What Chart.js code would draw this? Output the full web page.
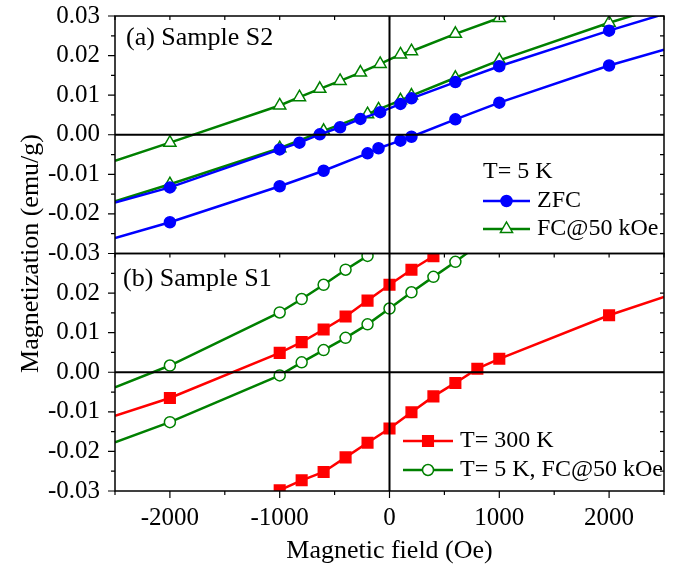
<!DOCTYPE html>
<html>
<head>
<meta charset="utf-8">
<script src="https://cdn.jsdelivr.net/npm/chart.js@4.4.1/dist/chart.umd.min.js"></script>
<style>
  html, body { margin: 0; padding: 0; background: #fff; }
  #wrap { width: 676px; height: 565px; }
</style>
</head>
<body>
<div id="wrap"><canvas id="mh" width="676" height="565"></canvas></div>
<script>
// (a) Sample S2, T = 5 K  -- field in Oe, magnetization in emu/g
const s2ZfcUpField   = [-2500, -2000, -1000, -600, -200, -100, 100, 200, 600, 1000, 2000, 2500];
const s2ZfcUpM       = [-0.0261, -0.0221, -0.0130, -0.0091, -0.0047, -0.0034, -0.0015, -0.0005, 0.0039, 0.0081, 0.0175, 0.0215];
const s2ZfcDownField = [-2500, -2000, -1000, -820, -635, -450, -265, -85, 100, 200, 600, 1000, 2000, 2500];
const s2ZfcDownM     = [-0.0171, -0.0133, -0.0037, -0.0020, 0.0001, 0.0019, 0.0040, 0.0057, 0.0078, 0.0092, 0.0133, 0.0173, 0.0263, 0.0305];
const s2FcUpField    = [-2500, -2000, -1000, -600, -200, -100, 100, 200, 600, 1000, 2000, 2500];
const s2FcUpM        = [-0.0168, -0.0125, -0.0034, 0.0010, 0.0052, 0.0064, 0.0087, 0.0099, 0.0144, 0.0188, 0.0283, 0.0325];
const s2FcDownField  = [-2500, -2000, -1000, -820, -635, -450, -265, -85, 100, 200, 600, 1000, 2000];
const s2FcDownM      = [-0.0066, -0.0020, 0.0074, 0.0095, 0.0116, 0.0136, 0.0157, 0.0179, 0.0203, 0.0211, 0.0255, 0.0295, 0.0395];

// (b) Sample S1
const s1RtDownField  = [-2500, -2000, -1000, -800, -600, -400, -200, 0, 200, 400, 600];
const s1RtDownM      = [-0.0110, -0.0065, 0.0049, 0.0076, 0.0108, 0.0141, 0.0181, 0.0221, 0.0259, 0.0293, 0.0330];
const s1RtUpField    = [-2000, -1000, -800, -600, -400, -200, 0, 200, 400, 600, 800, 1000, 2000, 2500];
const s1RtUpM        = [-0.0410, -0.0298, -0.0273, -0.0252, -0.0215, -0.0178, -0.0142, -0.0101, -0.0061, -0.0027, 0.0009, 0.0034, 0.0144, 0.0190];
const s1FcDownField  = [-2500, -2000, -1000, -800, -600, -400, -200, 0];
const s1FcDownM      = [-0.0038, 0.0017, 0.0151, 0.0185, 0.0221, 0.0259, 0.0294, 0.0340];
const s1FcUpField    = [-2500, -2000, -1000, -800, -600, -400, -200, 0, 200, 400, 600, 800];
const s1FcUpM        = [-0.0177, -0.0126, -0.0008, 0.0025, 0.0056, 0.0087, 0.0121, 0.0161, 0.0202, 0.0241, 0.0279, 0.0320];

const fieldTicks = [-2500, -2000, -1500, -1000, -500, 0, 500, 1000, 1500, 2000, 2500];
const mTicks = [-0.03, -0.025, -0.02, -0.015, -0.01, -0.005, 0, 0.005, 0.01, 0.015, 0.02, 0.025, 0.03];

const BLUE = "#0000ff";
const GREEN = "#008000";
const RED = "#ff0000";
const SERIF = "'Liberation Serif', 'Times New Roman', serif";

function series(label, xs, ys, axis, color, style, fill, r) {
    return {
        label,
        data: xs.map((x, i) => ({ x, y: ys[i] })),
        yAxisID: axis,
        showLine: true,
        borderColor: color,
        borderWidth: 2.5,
        pointStyle: style,
        pointBackgroundColor: fill,
        pointBorderColor: color,
        pointBorderWidth: 1.5,
        // the end points only carry the line to the frame edge
        pointRadius: c => (c.raw && Math.abs(c.raw.x) >= 2500) ? 0 : r,
        pointHoverRadius: 0,
        clip: 0
    };
}

// markers for the in-panel legends
function marker(ctx, style, x, y, r, color, fill) {
    ctx.save();
    ctx.fillStyle = fill;
    ctx.strokeStyle = color;
    ctx.lineWidth = 1.5;
    ctx.beginPath();
    if (style === "circle") {
        ctx.arc(x, y, r, 0, Math.PI * 2);
    } else if (style === "rect") {
        const s = r * Math.SQRT1_2;
        ctx.rect(x - s, y - s, 2 * s, 2 * s);
    } else {
        ctx.moveTo(x, y - r);
        ctx.lineTo(x + 0.866 * r, y + 0.5 * r);
        ctx.lineTo(x - 0.866 * r, y + 0.5 * r);
        ctx.closePath();
    }
    ctx.fill();
    ctx.stroke();
    ctx.restore();
}

function legendRow(ctx, x0, x1, y, color, style, fill, r, text) {
    ctx.save();
    ctx.strokeStyle = color;
    ctx.lineWidth = 2.5;
    ctx.beginPath();
    ctx.moveTo(x0, y);
    ctx.lineTo(x1, y);
    ctx.stroke();
    ctx.restore();
    marker(ctx, style, (x0 + x1) / 2, y, r, color, fill);
    ctx.fillText(text, x1 + 7, y);
}

const decorations = {
    id: "decorations",
    afterDatasetsDraw(chart) {
        const { ctx } = chart;
        const x = chart.scales.x;
        const panels = [chart.scales.yA, chart.scales.yB];
        ctx.save();
        ctx.strokeStyle = "#000";
        ctx.lineCap = "butt";

        // zero lines
        ctx.lineWidth = 2;
        panels.forEach(p => {
            const y0 = p.getPixelForValue(0);
            ctx.beginPath();
            ctx.moveTo(x.left, y0);
            ctx.lineTo(x.right, y0);
            ctx.stroke();
        });
        const x0 = x.getPixelForValue(0);
        ctx.beginPath();
        ctx.moveTo(x0, panels[0].top);
        ctx.lineTo(x0, panels[1].bottom);
        ctx.stroke();

        // frames
        ctx.lineWidth = 1.5;
        panels.forEach(p => ctx.strokeRect(x.left, p.top, x.right - x.left, p.bottom - p.top));

        // y ticks: outward on the left, inward on the right
        ctx.lineWidth = 1.2;
        panels.forEach(p => {
            mTicks.forEach((v, i) => {
                const py = p.getPixelForValue(v);
                const len = i % 2 === 0 ? 7 : 4;
                ctx.beginPath();
                ctx.moveTo(x.left - len, py);
                ctx.lineTo(x.left, py);
                ctx.moveTo(x.right - 4, py);
                ctx.lineTo(x.right, py);
                ctx.stroke();
            });
        });

        // x ticks: inward at the top of each panel, outward at the bottom
        fieldTicks.forEach(v => {
            const px = x.getPixelForValue(v);
            const major = v % 1000 === 0;
            ctx.beginPath();
            panels.forEach(p => {
                ctx.moveTo(px, p.top);
                ctx.lineTo(px, p.top + 4);
            });
            ctx.moveTo(px, panels[1].bottom);
            ctx.lineTo(px, panels[1].bottom + (major ? 7 : 4));
            ctx.stroke();
        });

        // texts
        ctx.fillStyle = "#000";
        ctx.textBaseline = "middle";
        ctx.textAlign = "left";
        ctx.font = "26px " + SERIF;
        ctx.fillText("(a) Sample S2", 126, 38);
        ctx.fillText("(b) Sample S1", 123, 279);

        ctx.font = "24px " + SERIF;
        ctx.fillText("T= 5 K", 483, 172);
        legendRow(ctx, 483, 530, 201, BLUE, "circle", BLUE, 5.5, "ZFC");
        legendRow(ctx, 483, 530, 229, GREEN, "triangle", "#fff", 7, "FC@50 kOe");
        legendRow(ctx, 403, 453, 441, RED, "rect", RED, 7.5, "T= 300 K");
        legendRow(ctx, 403, 453, 470, GREEN, "circle", "#fff", 5.5, "T= 5 K, FC@50 kOe");

        ctx.font = "26px " + SERIF;
        ctx.textAlign = "center";
        ctx.textBaseline = "alphabetic";
        ctx.fillText("Magnetic field (Oe)", (x.left + x.right) / 2, 558);

        ctx.save();
        ctx.translate(38, (panels[0].top + panels[1].bottom) / 2);
        ctx.rotate(-Math.PI / 2);
        ctx.fillText("Magnetization (emu/g)", 0, 0);
        ctx.restore();

        ctx.restore();
    }
};

function yAxis(hideTop) {
    return {
        type: "linear",
        position: "left",
        stack: "panels",
        stackWeight: 1,
        min: -0.03,
        max: 0.03,
        grid: { display: false, drawTicks: false },
        border: { display: false },
        ticks: {
            stepSize: 0.01,
            autoSkip: false,
            padding: 15,
            color: "#000",
            font: { family: SERIF, size: 25 },
            callback: v => {
                if (hideTop && v > 0.0299) return "";
                return Math.abs(v) < 1e-9 ? "0.00" : v.toFixed(2);
            }
        },
        afterFit: s => {
            s.width = 115;
            s.paddingTop = 0;
            s.paddingBottom = 0;
        }
    };
}

new Chart(document.getElementById("mh"), {
    type: "scatter",
    data: {
        datasets: [
            series("ZFC", s2ZfcUpField, s2ZfcUpM, "yA", BLUE, "circle", BLUE, 5.5),
            series("ZFC", s2ZfcDownField, s2ZfcDownM, "yA", BLUE, "circle", BLUE, 5.5),
            series("FC@50 kOe", s2FcUpField, s2FcUpM, "yA", GREEN, "triangle", "#fff", 7),
            series("FC@50 kOe", s2FcDownField, s2FcDownM, "yA", GREEN, "triangle", "#fff", 7),
            series("T= 300 K", s1RtDownField, s1RtDownM, "yB", RED, "rect", RED, 7.5),
            series("T= 300 K", s1RtUpField, s1RtUpM, "yB", RED, "rect", RED, 7.5),
            series("T= 5 K, FC@50 kOe", s1FcDownField, s1FcDownM, "yB", GREEN, "circle", "#fff", 5.5),
            series("T= 5 K, FC@50 kOe", s1FcUpField, s1FcUpM, "yB", GREEN, "circle", "#fff", 5.5)
        ]
    },
    options: {
        responsive: false,
        animation: false,
        devicePixelRatio: 1,
        layout: { padding: { left: 0, right: 11, top: 16, bottom: 0 } },
        plugins: {
            legend: { display: false },
            tooltip: { enabled: false }
        },
        scales: {
            x: {
                type: "linear",
                position: "bottom",
                min: -2500,
                max: 2500,
                grid: { display: false, drawTicks: false },
                border: { display: false },
                ticks: {
                    stepSize: 500,
                    autoSkip: false,
                    maxRotation: 0,
                    padding: 12,
                    color: "#000",
                    font: { family: SERIF, size: 25 },
                    callback: v => (v % 1000 === 0 && Math.abs(v) < 2500) ? String(v) : ""
                },
                afterFit: s => { s.height = 74; }
            },
            // bottom panel first: the later axis of a stack is placed on top
            yB: yAxis(true),
            yA: yAxis(false)
        }
    },
    plugins: [decorations]
});
</script>
</body>
</html>
